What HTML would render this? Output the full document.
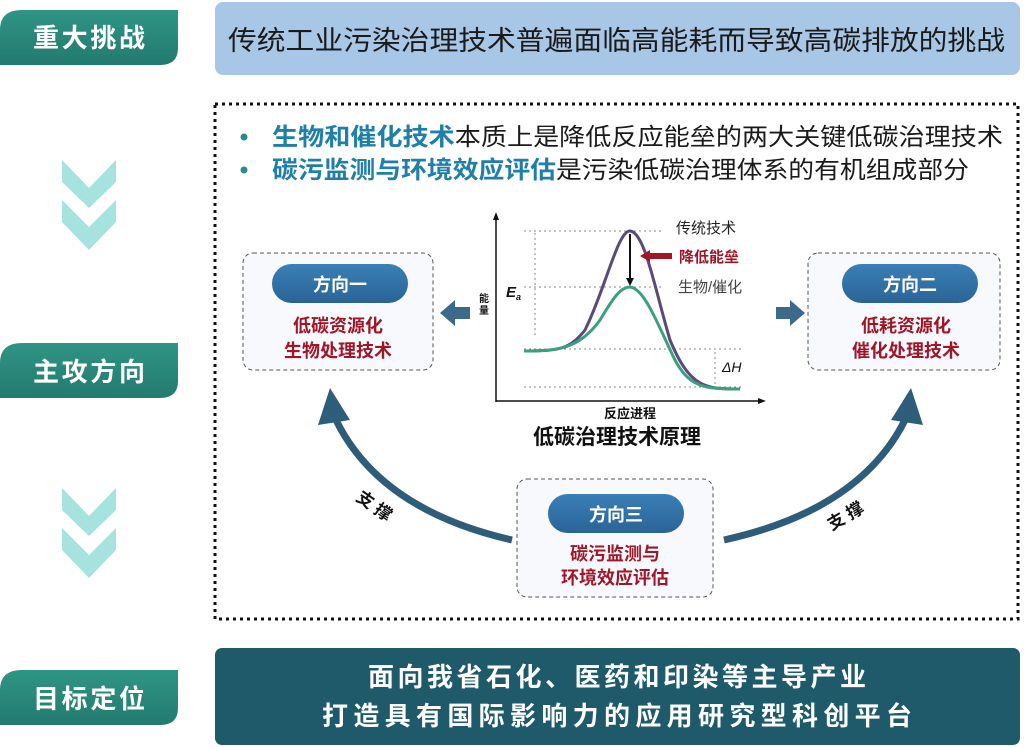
<!DOCTYPE html>
<html><head><meta charset="utf-8"><style>
html,body{margin:0;padding:0;background:#fff;}
svg{display:block;font-family:"Liberation Sans","Noto Sans CJK SC",sans-serif;}
</style></head><body>
<svg width="1024" height="747" viewBox="0 0 1024 747" xmlns="http://www.w3.org/2000/svg">
<defs>
<linearGradient id="tab" x1="0" y1="0" x2="0" y2="1"><stop offset="0" stop-color="#2f9585"/><stop offset="1" stop-color="#237a6f"/></linearGradient>
<linearGradient id="pill" x1="0" y1="0" x2="0" y2="1"><stop offset="0" stop-color="#3a7fb6"/><stop offset="1" stop-color="#2a6497"/></linearGradient>
</defs>
<g font-weight="bold" fill="#fff" font-size="26" text-anchor="middle">
<path d="M0,30 Q0,10 22,10 H178 V48 Q178,65 160,65 H0 Z" fill="url(#tab)"/>
<text x="89" y="47" textLength="112">重大挑战</text>
<path d="M0,363 Q0,343 22,343 H178 V381 Q178,398 160,398 H0 Z" fill="url(#tab)"/>
<text x="89" y="381" textLength="112">主攻方向</text>
<path d="M0,690 Q0,670 22,670 H178 V708 Q178,725 160,725 H0 Z" fill="url(#tab)"/>
<text x="89" y="708" textLength="112">目标定位</text>
</g>
<g fill="#a6e3de">
<path d="M62,160 L89,188 L116,160 L116,182 L89,208 L62,182 Z"/>
<path d="M62,200 L89,227 L116,200 L116,222 L89,250 L62,222 Z"/>
<path d="M62,488 L89,516 L116,488 L116,510 L89,536 L62,510 Z"/>
<path d="M62,528 L89,555 L116,528 L116,550 L89,578 L62,550 Z"/>
</g>
<rect x="215" y="2" width="805" height="73" rx="8" fill="#a8c6e6"/>
<text x="228" y="50" font-size="27" fill="#1a1a1a" textLength="777" lengthAdjust="spacingAndGlyphs">传统工业污染治理技术普遍面临高能耗而导致高碳排放的挑战</text>
<rect x="215" y="104" width="803" height="515" fill="none" stroke="#111" stroke-width="3" stroke-dasharray="3,4"/>
<g font-size="24">
<circle cx="244" cy="137" r="3.5" fill="#2a8a8a"/>
<text x="272" y="145" textLength="731" lengthAdjust="spacingAndGlyphs"><tspan fill="#1f7fa8" font-weight="bold">生物和催化技术</tspan><tspan fill="#1a1a1a">本质上是降低反应能垒的两大关键低碳治理技术</tspan></text>
<circle cx="244" cy="170" r="3.5" fill="#2a8a8a"/>
<text x="272" y="178" textLength="697" lengthAdjust="spacingAndGlyphs"><tspan fill="#1f7fa8" font-weight="bold">碳污监测与环境效应评估</tspan><tspan fill="#1a1a1a">是污染低碳治理体系的有机组成部分</tspan></text>
</g>
<g>
<rect x="243" y="253" width="190" height="117" rx="10" fill="#f7f9fc" stroke="#555" stroke-dasharray="4,3"/>
<rect x="272" y="264" width="136" height="39" rx="19.5" fill="url(#pill)"/>
<text x="340" y="291" font-size="18" fill="#fff" font-weight="bold" text-anchor="middle">方向一</text>
<text x="338" y="332" font-size="18" fill="#a01628" font-weight="bold" text-anchor="middle">低碳资源化</text>
<text x="338" y="357" font-size="18" fill="#a01628" font-weight="bold" text-anchor="middle">生物处理技术</text>
<rect x="808" y="253" width="192" height="117" rx="10" fill="#f7f9fc" stroke="#555" stroke-dasharray="4,3"/>
<rect x="842" y="264" width="136" height="39" rx="19.5" fill="url(#pill)"/>
<text x="910" y="291" font-size="18" fill="#fff" font-weight="bold" text-anchor="middle">方向二</text>
<text x="906" y="332" font-size="18" fill="#a01628" font-weight="bold" text-anchor="middle">低耗资源化</text>
<text x="906" y="357" font-size="18" fill="#a01628" font-weight="bold" text-anchor="middle">催化处理技术</text>
<rect x="517" y="479" width="196" height="118" rx="10" fill="#f7f9fc" stroke="#555" stroke-dasharray="4,3"/>
<rect x="548" y="494" width="136" height="39" rx="19.5" fill="url(#pill)"/>
<text x="616" y="521" font-size="18" fill="#fff" font-weight="bold" text-anchor="middle">方向三</text>
<text x="615" y="560" font-size="18" fill="#a01628" font-weight="bold" text-anchor="middle">碳污监测与</text>
<text x="615" y="584" font-size="18" fill="#a01628" font-weight="bold" text-anchor="middle">环境效应评估</text>
</g>
<path d="M440,313 L455,300 L455,307 L470,307 L470,319 L455,319 L455,326 Z" fill="#3d6a8a"/>
<path d="M805,313 L790,300 L790,307 L776,307 L776,319 L790,319 L790,326 Z" fill="#3d6a8a"/>
<path d="M512,540 Q380,510 336,420" fill="none" stroke="#2e5d7a" stroke-width="7"/>
<path d="M330,388 L318,425 L350,420 Z" fill="#2e5d7a"/>
<path d="M724,540 Q860,510 905,420" fill="none" stroke="#2e5d7a" stroke-width="7"/>
<path d="M911,388 L891,420 L923,425 Z" fill="#2e5d7a"/>
<text x="375" y="512" font-size="17" font-weight="bold" fill="#111" text-anchor="middle" transform="rotate(35 375 505)">支 撑</text>
<text x="845" y="522" font-size="17" font-weight="bold" fill="#111" text-anchor="middle" transform="rotate(-30 845 515)">支 撑</text>
<g>
<line x1="496" y1="402" x2="496" y2="216" stroke="#111" stroke-width="1.5"/>
<path d="M496,212 L493,220 L499,220 Z" fill="#111"/>
<line x1="496" y1="401" x2="762" y2="401" stroke="#111" stroke-width="1.5"/>
<path d="M766,401 L758,398 L758,404 Z" fill="#111"/>
<g stroke="#888" stroke-width="1" stroke-dasharray="2,3" fill="none">
<line x1="524" y1="231" x2="664" y2="231"/>
<line x1="524" y1="287" x2="664" y2="287"/>
<line x1="524" y1="349" x2="743" y2="349"/>
<line x1="524" y1="387" x2="743" y2="387"/>
<line x1="535" y1="233" x2="535" y2="338"/>
<line x1="715" y1="352" x2="715" y2="384"/>
</g>
<path d="M524,351 C560,351 570,349 585,330 C605,290 618,230 630,231 C645,232 655,290 670,340 C690,388 705,389 740,389" fill="none" stroke="#5a4a7a" stroke-width="3"/>
<path d="M524,351 C560,351 580,348 600,320 C612,300 620,287 630,287 C645,288 660,330 675,360 C690,388 705,389 740,389" fill="none" stroke="#3aa07e" stroke-width="3"/>
<line x1="630" y1="234" x2="630" y2="280" stroke="#111" stroke-width="2"/>
<path d="M630,286 L626,278 L634,278 Z" fill="#111"/>
<path d="M640,256 L650,250 L650,253 L672,253 L672,259 L650,259 L650,262 Z" fill="#a01628"/>
<text x="676" y="233" font-size="15" fill="#222">传统技术</text>
<text x="679" y="262" font-size="15" fill="#a01628" font-weight="bold">降低能垒</text>
<text x="678" y="292" font-size="15" fill="#444">生物/催化</text>
<text x="506" y="297" font-size="15" font-style="italic" font-weight="bold" fill="#111">E<tspan font-size="9" dy="3">a</tspan></text>
<text x="722" y="372" font-size="14" font-style="italic" fill="#111">ΔH</text>
<text x="479" y="302" font-size="10" font-weight="bold" fill="#111">能</text>
<text x="479" y="314" font-size="10" font-weight="bold" fill="#111">量</text>
<text x="630" y="418" font-size="13" font-weight="bold" fill="#111" text-anchor="middle">反应进程</text>
<text x="617" y="444" font-size="21" font-weight="bold" fill="#111" text-anchor="middle">低碳治理技术原理</text>
</g>
<rect x="215" y="648" width="805" height="97" rx="7" fill="#1e5a6a"/>
<text x="617" y="686" font-size="26" font-weight="bold" fill="#fff" text-anchor="middle" textLength="498">面向我省石化、医药和印染等主导产业</text>
<text x="617" y="725" font-size="26" font-weight="bold" fill="#fff" text-anchor="middle" textLength="590">打造具有国际影响力的应用研究型科创平台</text>
</svg>
</body></html>
